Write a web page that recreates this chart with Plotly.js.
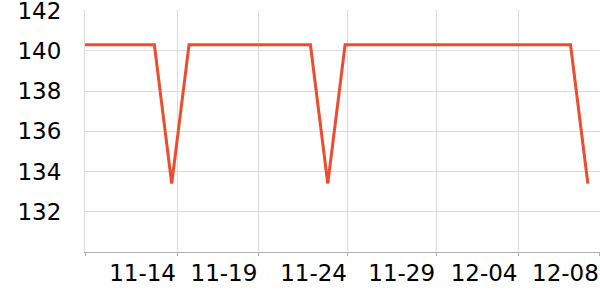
<!DOCTYPE html>
<html>
<head>
<meta charset="utf-8">
<script src="https://cdn.plot.ly/plotly-3.0.1.min.js"></script>
<style>html,body{margin:0;padding:0;background:#fff;}#chart{width:600px;height:300px;}</style>
</head>
<body>
<div id="chart"></div>
<script>
const dates = ['2023-11-09','2023-11-10','2023-11-11','2023-11-12','2023-11-13','2023-11-14','2023-11-15','2023-11-16','2023-11-17','2023-11-18',
  '2023-11-19','2023-11-20','2023-11-21','2023-11-22','2023-11-23','2023-11-24','2023-11-25','2023-11-26','2023-11-27','2023-11-28',
  '2023-11-29','2023-11-30','2023-12-01','2023-12-02','2023-12-03','2023-12-04','2023-12-05','2023-12-06','2023-12-07','2023-12-08'];
const values = [140.3,140.3,140.3,140.3,140.3,133.4,140.3,140.3,140.3,140.3,
  140.3,140.3,140.3,140.3,133.4,140.3,140.3,140.3,140.3,140.3,
  140.3,140.3,140.3,140.3,140.3,140.3,140.3,140.3,140.3,133.4];
const xTickVals = ['2023-11-09','2023-11-14 07:20','2023-11-19 00:00','2023-11-24 04:00','2023-11-29 06:00','2023-12-04 00:00','2023-12-08 16:40'];
const xTickText = ['','11-14','11-19','11-24','11-29','12-04','12-08'];
const yTickVals = [132,134,136,138,140,142];

Plotly.newPlot('chart', [{
  x: dates, y: values, type: 'scatter', mode: 'lines',
  line: {color: '#ef4b2f', width: 3}, hoverinfo: 'skip'
}], {
  width: 600, height: 300,
  margin: {l: 85, r: 0, t: 10, b: 48},
  paper_bgcolor: '#fff', plot_bgcolor: '#fff',
  font: {family: 'DejaVu Sans', size: 23, color: '#000'},
  showlegend: false,
  xaxis: {
    type: 'date', range: ['2023-11-09', '2023-12-08 16:48'],
    tickmode: 'array', tickvals: xTickVals, ticktext: xTickText,
    ticklabelposition: 'outside left', ticklabeloverflow: 'allow',
    showgrid: true, gridcolor: '#dcdcdc', gridwidth: 1,
    showline: true, linecolor: '#b0b0b0', linewidth: 1,
    ticks: 'outside', ticklen: 3, tickcolor: '#b0b0b0',
    zeroline: false, tickfont: {size: 23, color: '#000'}
  },
  yaxis: {
    range: [130, 142.03], tickmode: 'array', tickvals: yTickVals,
    ticklabeloverflow: 'allow',
    showgrid: true, gridcolor: '#dcdcdc', gridwidth: 1,
    showline: true, linecolor: '#dcdcdc', linewidth: 1,
    ticks: '', ticklabelstandoff: 18,
    zeroline: false, tickfont: {size: 23, color: '#000'}
  }
}, {staticPlot: true});
</script>
</body>
</html>
